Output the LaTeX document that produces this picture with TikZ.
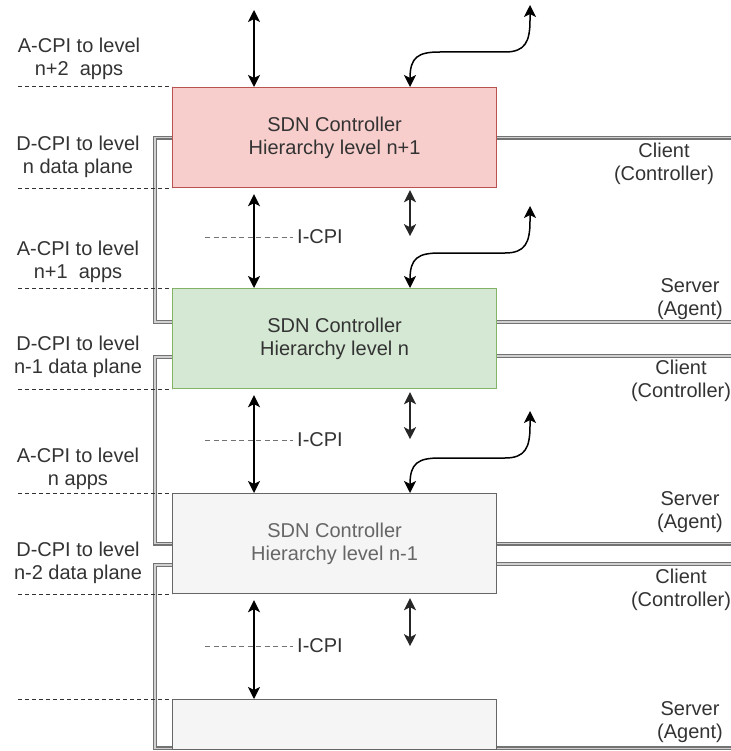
\documentclass[tikz,border=0pt]{standalone}
\usepackage{fontspec}
\setmainfont{Liberation Sans}
\usetikzlibrary{arrows.meta,calc}
\definecolor{pinkfill}{HTML}{F8CECC}
\definecolor{pinkline}{HTML}{B85450}
\definecolor{greenfill}{HTML}{D5E8D4}
\definecolor{greenline}{HTML}{82B366}
\definecolor{greyfill}{HTML}{F5F5F5}
\definecolor{greyline}{HTML}{666666}
\definecolor{txt}{HTML}{333333}

\begin{document}
\begin{tikzpicture}[x=1pt,y=-1pt,
  every node/.style={font=\fontsize{20}{23}\selectfont, text=txt},
  ctrl/.style={draw, line width=1.2pt, minimum width=324pt, minimum height=100pt,
               align=center, inner sep=0pt, anchor=north west},
  lbl/.style={align=center, inner sep=0pt},
  arr/.style={line width=1.5pt, {Stealth[length=12pt,width=12pt,inset=3pt]}-{Stealth[length=12pt,width=12pt,inset=3pt]}},
  sarr/.style={line width=2pt, draw=black!85, {Stealth[length=12pt,width=12pt,inset=3pt]}-{Stealth[length=12pt,width=12pt,inset=3pt]}},
  link/.style={draw=black!55, line width=1.3pt, double=black!18, double distance=1.3pt},
  guide/.style={draw=txt, line width=1pt, dash pattern=on 4pt off 3pt},
  iguide/.style={draw=black!55, line width=1pt, dash pattern=on 5pt off 3.5pt}
]
\useasboundingbox (0,0) rectangle (730,751);

% controller boxes, one per hierarchy level
\node[ctrl, fill=pinkfill, draw=pinkline] (b1) at (172,87) {SDN Controller\\Hierarchy level n+1};
\node[ctrl, fill=greenfill, draw=greenline] (b2) at (172,288) {SDN Controller\\Hierarchy level n};
\node[ctrl, fill=greyfill, draw=greyline, text=greyline] (b3) at (172,493) {SDN Controller\\Hierarchy level n-1};
\node[ctrl, fill=greyfill, draw=greyline, minimum height=50pt] (b4) at (172,699) {};

% reference points for free ends
\coordinate (lm) at (18,0);
\coordinate (rim) at (736,0);
\coordinate (top1) at (254,10);

% client/server links on the left, level to level
\draw[link] (b1.west) -- ++(-17,0) |- ($(b2.north west)+(0,34)$);
\draw[link] ($(b2.north west)+(0,69)$) -- ++(-17,0) |- (b3.west);
\draw[link] ($(b3.north west)+(0,72)$) -- ++(-17,0) |- ($(b4.south west)+(0,-2)$);

% client/server links leaving to the right
\draw[link] (b1.east) -- (b1.east -| rim);
\draw[link] ($(b2.north east)+(0,34)$) -- ($(b2.north east -| rim)+(0,34)$);
\draw[link] ($(b2.north east)+(0,68)$) -- ($(b2.north east -| rim)+(0,68)$);
\draw[link] (b3.east) -- (b3.east -| rim);
\draw[link] ($(b3.north east)+(0,71)$) -- ($(b3.north east -| rim)+(0,71)$);
\draw[link] ($(b4.south east)+(0,-2)$) -- ($(b4.south east -| rim)+(0,-2)$);

% interface boundaries
\foreach \c in {b1.north west, b1.south west, b2.north west, b2.south west,
                b3.north west, b3.south west, b4.north west}
  \draw[guide] (\c -| lm) -- (\c);

% vertical interfaces between levels
\draw[arr] (top1) -- (top1 |- b1.north);
\draw[arr] ($(b1.south west)+(82,6)$) -- ($(b2.north west)+(82,0)$);
\draw[arr] ($(b2.south west)+(82,6)$) -- ($(b3.north west)+(82,0)$);
\draw[arr] ($(b3.south west)+(82,6)$) -- ($(b4.north west)+(82,0)$);

% short data plane arrows
\draw[sarr] ($(b1.south west)+(238,2)$) -- ($(b1.south west)+(238,48)$);
\draw[sarr] ($(b2.south west)+(238,3)$) -- ($(b2.south west)+(238,50)$);
\draw[sarr] ($(b3.south west)+(238,4)$) -- ($(b3.south west)+(238,52)$);

% application interfaces curving up and right
\foreach \b/\d in {b1/0, b2/201, b3/406}
  \draw[arr] (530,5+\d) -- (530,20+\d) .. controls (530,42+\d) and (525,52+\d) .. (505,52+\d)
     -- (440,52+\d) .. controls (418,52+\d) and (410,57+\d) .. ($(\b.north west)+(238,0)$);

% I-CPI markers
\node[inner sep=0pt, anchor=west] (ic1) at (297,237) {I-CPI};
\node[inner sep=0pt, anchor=west] (ic2) at (297,440) {I-CPI};
\node[inner sep=0pt, anchor=west] (ic3) at (297,646) {I-CPI};
\foreach \i in {ic1, ic2, ic3}
  \draw[iguide] ($(\i.west)+(-92,0)$) -- ($(\i.west)+(-4,0)$);

% left-hand interface labels
\node[lbl] (la2) at (79,59) {A-CPI to level\\n+2~ apps};
\node[lbl] (ld1) at (78,157) {D-CPI to level\\n data plane};
\node[lbl] (la1) at (78,262) {A-CPI to level\\n+1~ apps};
\node[lbl] (ld0) at (78,357) {D-CPI to level\\n-1 data plane};
\node[lbl] (la0) at (78,469) {A-CPI to level\\n apps};
\node[lbl] (ldm) at (78,563) {D-CPI to level\\n-2 data plane};

% right-hand role labels
\node[lbl] (rc1) at (664,164) {Client\\(Controller)};
\node[lbl] (rs1) at (690,299) {Server\\(Agent)};
\node[lbl] (rc2) at (681,381) {Client\\(Controller)};
\node[lbl] (rs2) at (690,512) {Server\\(Agent)};
\node[lbl] (rc3) at (681,590) {Client\\(Controller)};
\node[lbl] (rs3) at (690,722) {Server\\(Agent)};
\end{tikzpicture}
\end{document}
